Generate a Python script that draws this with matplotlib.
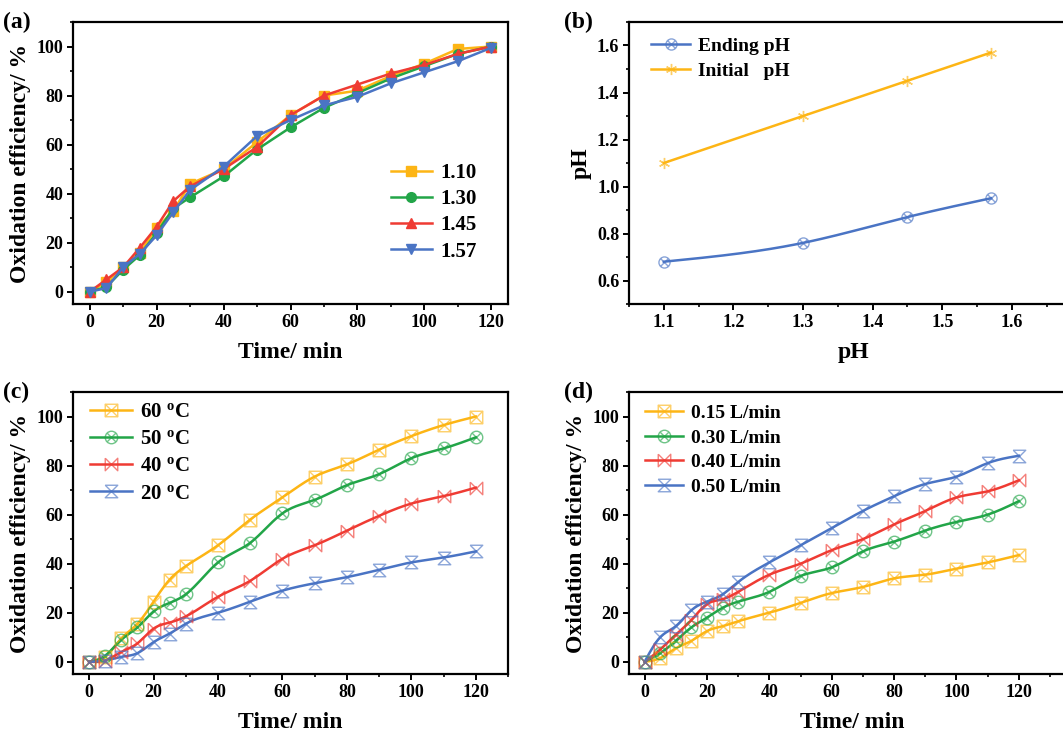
import numpy as np
import matplotlib
matplotlib.use('Agg')
import matplotlib.pyplot as plt
from matplotlib.path import Path
from matplotlib.lines import Line2D
from matplotlib.ticker import MultipleLocator

plt.rcParams['font.family'] = 'Liberation Serif'
plt.rcParams['font.weight'] = 'bold'
plt.rcParams['mathtext.fontset'] = 'custom'
plt.rcParams['mathtext.rm'] = 'Liberation Serif:bold'
plt.rcParams['mathtext.it'] = 'Liberation Serif:bold'
plt.rcParams['mathtext.bf'] = 'Liberation Serif:bold'

ORANGE = '#FDB515'
GREEN = '#22A548'
RED = '#EF3B33'
BLUE = '#4A74C4'

# ---- data ----
time = [0, 5, 10, 15, 20, 25, 30, 40, 50, 60, 70, 80, 90, 100, 110, 120]

# (a) initial pH series
ph_labels = ['1.10', '1.30', '1.45', '1.57']
eff_110 = [0, 4, 10, 16, 26, 33, 44, 50, 61, 72, 80, 82, 88, 93, 99, 100]
eff_130 = [0, 2, 9, 15, 24, 34, 38.5, 47, 58, 67, 75, 81, 87, 92, 97, 100]
eff_145 = [0, 5, 10, 18, 26.5, 37, 43, 50, 59, 72, 80, 84.5, 89, 92.5, 97, 100]
eff_157 = [0, 1.5, 10, 15.5, 23, 32.5, 41.5, 51, 63.5, 70, 76, 79.5, 85, 89.5, 94, 99.5]

# (b) pH change
ph_init = [1.10, 1.30, 1.45, 1.57]
ph_end = [0.68, 0.76, 0.87, 0.95]

# (c) temperature
temp_labels = ['60 $^{\\mathrm{o}}$C', '50 $^{\\mathrm{o}}$C', '40 $^{\\mathrm{o}}$C', '20 $^{\\mathrm{o}}$C']
eff_60 = [0, 2, 9.5, 15.5, 24.5, 33.5, 39, 47.5, 58, 67, 75.5, 80.5, 86.5, 92, 96.5, 100]
eff_50 = [0, 2.5, 9, 14, 20.5, 24, 27.5, 40.5, 48.5, 60.5, 66, 72, 76.5, 83, 87, 91.5]
eff_40 = [0, 0.5, 4, 7.5, 13.5, 16, 18.5, 26.5, 33, 42, 47.5, 53.5, 59.5, 64.5, 67.5, 71]
eff_20 = [0, 0.5, 2, 3.5, 8, 11.5, 15.5, 20, 24.5, 29, 32, 34.5, 37.5, 40.5, 42.5, 45]

# (d) gas flow
flow_labels = ['0.15 L/min', '0.30 L/min', '0.40 L/min', '0.50 L/min']
eff_015 = [0, 1.5, 5.5, 8.5, 12.5, 14.5, 16.5, 20, 24, 28, 30.5, 34, 35.5, 38, 40.5, 43.5]
eff_030 = [0, 3.5, 8.5, 14, 18, 22, 24.5, 28.5, 35, 38.5, 45, 49, 53.5, 57, 60, 65.5]
eff_040 = [0, 5, 11, 17, 23.5, 25.5, 28.5, 35.5, 40, 45.5, 50, 56, 61.5, 67, 69.5, 74]
eff_050 = [0, 10, 14.5, 21, 24.5, 27.5, 32.5, 40.5, 47.5, 54.5, 61.5, 67.5, 72.5, 75.5, 81, 84]


def smooth(x, y, n=300):
    # natural cubic spline, just for drawing the connecting curve
    x = np.asarray(x, float)
    y = np.asarray(y, float)
    m = len(x)
    h = np.diff(x)
    A = np.zeros((m, m))
    r = np.zeros(m)
    A[0, 0] = A[-1, -1] = 1
    for i in range(1, m - 1):
        A[i, i - 1] = h[i - 1]
        A[i, i] = 2 * (h[i - 1] + h[i])
        A[i, i + 1] = h[i]
        r[i] = 3 * ((y[i + 1] - y[i]) / h[i] - (y[i] - y[i - 1]) / h[i - 1])
    c = np.linalg.solve(A, r)
    b = (y[1:] - y[:-1]) / h - h * (2 * c[:-1] + c[1:]) / 3
    d = (c[1:] - c[:-1]) / (3 * h)
    xs = np.linspace(x[0], x[-1], n)
    k = np.clip(np.searchsorted(x, xs) - 1, 0, m - 2)
    dx = xs - x[k]
    return xs, y[k] + b[k] * dx + c[k] * dx ** 2 + d[k] * dx ** 3


M, L, C = Path.MOVETO, Path.LINETO, Path.CLOSEPOLY
sq_x = Path([(-1, -1), (1, -1), (1, 1), (-1, 1), (-1, -1), (-1, -1), (1, 1), (-1, 1), (1, -1)],
            [M, L, L, L, C, M, L, M, L])
circ_x = Path.make_compound_path(Path.unit_circle(),
                                 Path([(-0.7, -0.7), (0.7, 0.7)]),
                                 Path([(-0.7, 0.7), (0.7, -0.7)]))
bowtie = Path([(-1, 1), (-1, -1), (1, 1), (1, -1), (-1, 1)], [M, L, L, L, L])
hourglass = Path([(-1, 1), (1, 1), (-1, -1), (1, -1), (-1, 1)], [M, L, L, L, L])


def style(ax, xlabel, ylabel, letter, lx=-0.16):
    for s in ax.spines.values():
        s.set_linewidth(1.6)
    ax.tick_params(which='major', direction='out', length=4, width=1.4, labelsize=13, pad=3)
    ax.tick_params(which='minor', direction='out', length=2.5, width=1.2)
    ax.set_xlabel(xlabel, fontsize=17, fontweight='bold', labelpad=8)
    ax.set_ylabel(ylabel, fontsize=17, fontweight='bold', labelpad=4)
    ax.text(lx, 1.0, letter, transform=ax.transAxes, fontsize=17, fontweight='bold',
            ha='left', va='center')


def smooth_series(ax, x, ys, labels, colors, markers, msize=9):
    handles = []
    for y, lab, col, mk in zip(ys, labels, colors, markers):
        xs, yy = smooth(x, y)
        mec = matplotlib.colors.to_rgba(col, 0.65)
        ax.plot(xs, yy, color=col, lw=1.8, zorder=2)
        ax.plot(x, y, ls='none', marker=mk, ms=msize, mfc='none', mec=mec, mew=1.0, zorder=3)
        handles.append(Line2D([], [], color=col, lw=1.8, marker=mk, ms=msize, mfc='none',
                              mec=mec, mew=1.0, label=lab))
    return handles


def time_axis(ax, xmax):
    ax.set_xlim(-5, xmax)
    ax.set_ylim(-5, 110)
    ax.xaxis.set_major_locator(MultipleLocator(20))
    ax.xaxis.set_minor_locator(MultipleLocator(10))
    ax.yaxis.set_major_locator(MultipleLocator(20))
    ax.yaxis.set_minor_locator(MultipleLocator(10))


W, H = 1063, 733
fig = plt.figure(figsize=(W / 100, H / 100), dpi=100)


def box(l, t, r, b):
    return [l / W, (H - b) / H, (r - l) / W, (b - t) / H]


ax_a = fig.add_axes(box(73, 22, 508, 304))
ax_b = fig.add_axes(box(629, 22, 1078, 304))
ax_c = fig.add_axes(box(73, 392, 508, 674))
ax_d = fig.add_axes(box(629, 392, 1075, 674))

# (a)
for y, lab, col, mk in zip([eff_110, eff_130, eff_145, eff_157], ph_labels,
                           [ORANGE, GREEN, RED, BLUE], ['s', 'o', '^', 'v']):
    ax_a.plot(time, y, color=col, lw=1.8, marker=mk, ms=7, label=lab)
time_axis(ax_a, 125)
style(ax_a, 'Time/ min', 'Oxidation efficiency/ %', '(a)')
ax_a.legend(loc='upper left', bbox_to_anchor=(0.73, 0.50), frameon=False, fontsize=15,
            handlelength=2.0, handletextpad=0.4, labelspacing=0.3, borderpad=0, borderaxespad=0)

# (b)
hb = smooth_series(ax_b, ph_init, [ph_end, ph_init], ['Ending pH', 'Initial   pH'],
                   [BLUE, ORANGE], [circ_x, (6, 2, 0)], msize=8)
ax_b.set_xlim(1.05, 1.695)
ax_b.set_ylim(0.5, 1.7)
ax_b.xaxis.set_major_locator(MultipleLocator(0.1))
ax_b.xaxis.set_minor_locator(MultipleLocator(0.05))
ax_b.yaxis.set_major_locator(MultipleLocator(0.2))
ax_b.yaxis.set_minor_locator(MultipleLocator(0.1))
ax_b.xaxis.set_major_formatter(matplotlib.ticker.FormatStrFormatter('%.1f'))
ax_b.yaxis.set_major_formatter(matplotlib.ticker.FormatStrFormatter('%.1f'))
style(ax_b, 'pH', 'pH', '(b)', lx=-0.145)
ax_b.legend(handles=hb, loc='upper left', bbox_to_anchor=(0.05, 0.945), frameon=False,
            fontsize=14, handlelength=2.0, handletextpad=0.4, labelspacing=0.35,
            borderpad=0, borderaxespad=0)

# (c)
hc = smooth_series(ax_c, time, [eff_60, eff_50, eff_40, eff_20], temp_labels,
                   [ORANGE, GREEN, RED, BLUE], [sq_x, circ_x, bowtie, hourglass])
time_axis(ax_c, 130)
style(ax_c, 'Time/ min', 'Oxidation efficiency/ %', '(c)')
ax_c.legend(handles=hc, loc='upper left', bbox_to_anchor=(0.04, 0.965), frameon=False,
            fontsize=15, handlelength=2.0, handletextpad=0.4, labelspacing=0.35,
            borderpad=0, borderaxespad=0)

# (d)
hd = smooth_series(ax_d, time, [eff_015, eff_030, eff_040, eff_050], flow_labels,
                   [ORANGE, GREEN, RED, BLUE], [sq_x, circ_x, bowtie, hourglass])
time_axis(ax_d, 138)
style(ax_d, 'Time/ min', 'Oxidation efficiency/ %', '(d)', lx=-0.145)
ax_d.legend(handles=hd, loc='upper left', bbox_to_anchor=(0.035, 0.955), frameon=False,
            fontsize=14, handlelength=2.0, handletextpad=0.4, labelspacing=0.35,
            borderpad=0, borderaxespad=0)

fig.savefig('out.png', dpi=100)
